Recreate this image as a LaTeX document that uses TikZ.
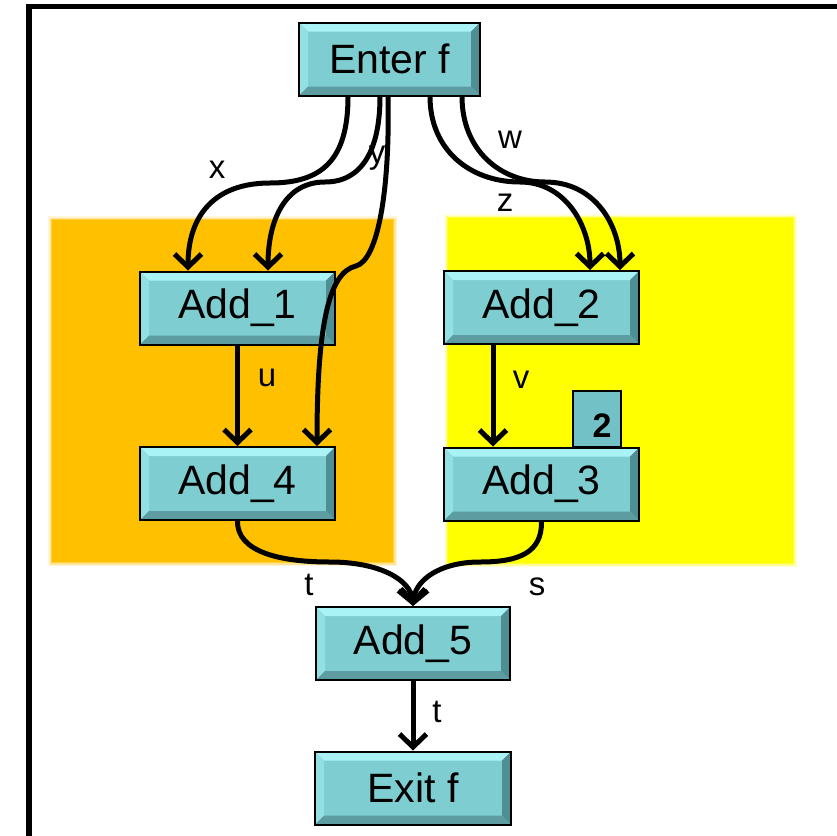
\documentclass[tikz,border=0pt]{standalone}
\usepackage{fontspec}
\setmainfont{Liberation Sans}
\usetikzlibrary{arrows.meta}
\definecolor{face}{HTML}{7ECDD1}
\definecolor{bevtop}{HTML}{A9F2F6}
\definecolor{bevleft}{HTML}{93E0E4}
\definecolor{bevright}{HTML}{4E8F93}
\definecolor{bevbot}{HTML}{5D9DA1}
\definecolor{tagfill}{HTML}{72C1C6}
\definecolor{orangebg}{HTML}{FFC000}
\definecolor{yellowbg}{HTML}{FFFF00}
\tikzset{
  opbox/.style={draw=black, line width=2pt, fill=face, inner sep=0pt,
    minimum width=195pt, minimum height=73pt,
    font=\fontsize{41}{48}\selectfont,
    path picture={
      \fill[bevtop] (path picture bounding box.north west) -- (path picture bounding box.north east)
        -- ([shift={(-9pt,-9pt)}]path picture bounding box.north east) -- ([shift={(9pt,-9pt)}]path picture bounding box.north west) -- cycle;
      \fill[bevleft] (path picture bounding box.north west) -- ([shift={(9pt,-9pt)}]path picture bounding box.north west)
        -- ([shift={(9pt,9pt)}]path picture bounding box.south west) -- (path picture bounding box.south west) -- cycle;
      \fill[bevright] (path picture bounding box.north east) -- ([shift={(-9pt,-9pt)}]path picture bounding box.north east)
        -- ([shift={(-9pt,9pt)}]path picture bounding box.south east) -- (path picture bounding box.south east) -- cycle;
      \fill[bevbot] (path picture bounding box.south west) -- ([shift={(9pt,9pt)}]path picture bounding box.south west)
        -- ([shift={(-9pt,9pt)}]path picture bounding box.south east) -- (path picture bounding box.south east) -- cycle;
    }},
  tagbox/.style={draw=black, line width=1.5pt, fill=tagfill, inner sep=0pt,
    minimum width=48pt, minimum height=56pt, text height=40pt, text depth=4pt,
    font=\fontsize{34}{38}\selectfont\bfseries},
  flow/.style={line width=5pt, -{Straight Barb[length=13pt,width=27pt]}},
  lbl/.style={inner sep=0pt, font=\fontsize{33}{38}\selectfont},
}
\begin{document}
\begin{tikzpicture}[x=1pt,y=1pt]
\useasboundingbox (0,0) rectangle (837,-835);
\clip (0,0) rectangle (837,-835);
% frame
\draw[line width=5.5pt] (29,-860) -- (29,-6.5) -- (860,-6.5);
% backgrounds with soft edges
\foreach \d/\o in {4/0.15,2.5/0.3,1/0.6}{
  \fill[orangebg, opacity=\o] (52-\d,-220+\d) rectangle (393+\d,-562-\d);
  \fill[yellowbg, opacity=\o] (448-\d,-218+\d) rectangle (793+\d,-563-\d);
}
\fill[orangebg] (52,-220) rectangle (393,-562);
\fill[yellowbg] (448,-218) rectangle (793,-563);
% nodes
\node[opbox, minimum width=181pt] (enter) at (389.5,-59) {Enter f};
\node[opbox] (add1) at (237.5,-308) {Add\_1};
\node[opbox] (add4) at (237.5,-483.5) {Add\_4};
\node[opbox] (add2) at (541.5,-307.5) {Add\_2};
\node[tagbox] (tag) at (597,-419) {\hspace*{10pt}2};
\node[opbox] (add3) at (541.5,-484) {Add\_3};
\node[opbox, minimum width=194pt] (add5) at (413,-643.5) {Add\_5};
\node[opbox, minimum width=196pt] (exit) at (413,-788) {Exit f};
% connectors
\draw[flow] ([xshift=-41.5pt]enter.south) .. controls (348,-160) and (322,-183) .. (270,-183)
   .. controls (215,-183) and (188,-215) .. ([xshift=-49.5pt]add1.north);
\draw[flow] ([xshift=-9.5pt]enter.south) .. controls (380,-150) and (362,-182) .. (325,-182)
   .. controls (285,-182) and (268,-220) .. ([xshift=30.5pt]add1.north);
\draw[flow] ([xshift=-1.5pt]enter.south) .. controls (390,-190) and (378,-260) .. (356,-266)
   .. controls (330,-272) and (317,-320) .. ([xshift=79.5pt]add4.north);
\draw[flow] ([xshift=40.5pt]enter.south) .. controls (430,-150) and (470,-182) .. (520,-182)
   .. controls (565,-182) and (590,-225) .. ([xshift=48.5pt]add2.north);
\draw[flow] ([xshift=72.5pt]enter.south) .. controls (462,-150) and (500,-182) .. (545,-182)
   .. controls (595,-182) and (620,-225) .. ([xshift=78.5pt]add2.north);
\draw[flow] (add1.south) -- (add4.north);
\draw[flow] ([xshift=-48.5pt]add2.south) -- ([xshift=-48.5pt]add3.north);
\draw[flow] (add4.south) .. controls (237,-552) and (280,-562) .. (330,-562)
   .. controls (380,-562) and (411,-580) .. (add5.north);
\draw[flow] (add3.south) .. controls (542,-552) and (520,-562) .. (480,-562)
   .. controls (440,-562) and (415,-580) .. (add5.north);
\draw[flow] (add5.south) -- (exit.north);
% labels
\node[lbl] (lx) at (217,-170) {x};
\node[lbl] (ly) at (377,-158) {y};
\node[lbl] (lz) at (505,-203) {z};
\node[lbl] (lw) at (510,-140) {w};
\node[lbl] (lu) at (267,-378) {u};
\node[lbl] (lv) at (521,-380) {v};
\node[lbl] (lt) at (309,-585) {t};
\node[lbl] (ls) at (537,-587) {s};
\node[lbl] (lt2) at (437,-712) {t};
\end{tikzpicture}
\end{document}
